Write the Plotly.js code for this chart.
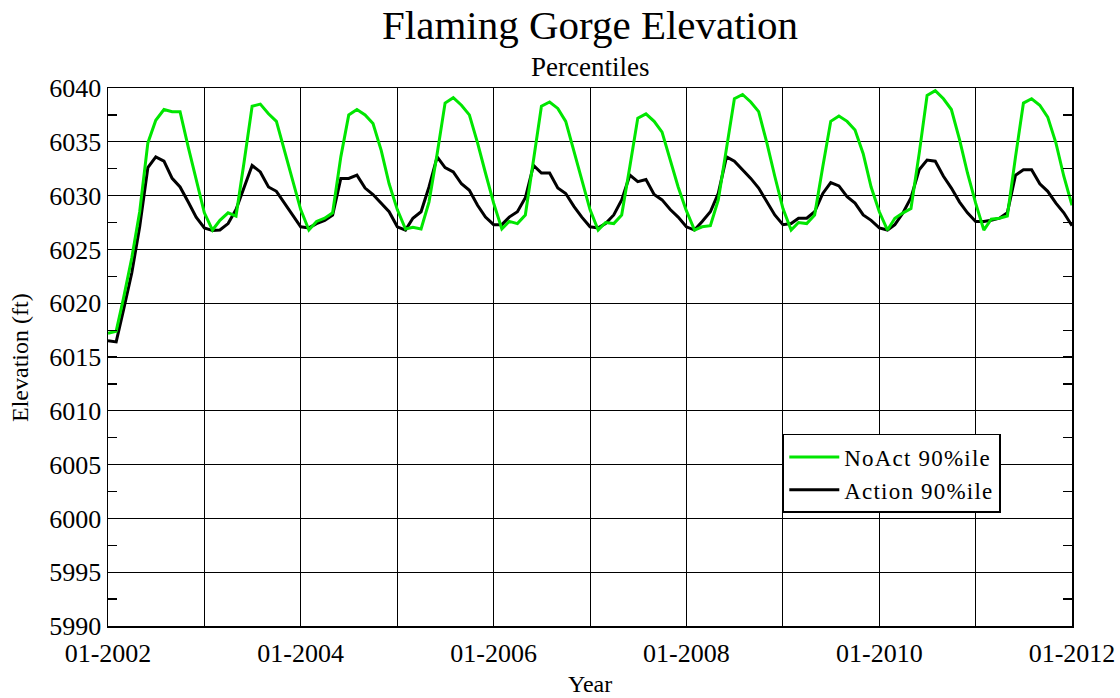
<!DOCTYPE html>
<html>
<head>
<meta charset="utf-8">
<script src="https://cdn.plot.ly/plotly-3.0.1.min.js"></script>
<style>
html,body{margin:0;padding:0;background:#fff;}
#chart{width:1120px;height:698px;}
.legendtext{letter-spacing:1.2px;}
</style>
</head>
<body>
<div id="chart"></div>
<script>
// Monthly series, Jan 2002 .. Jan 2012 (121 months)
const startYear = 2002;
const monthCount = 121;

const noActValues = [
  6017.2, 6017.4, 6020.5, 6024.2, 6028.5, 6034.9, 6037.0, 6038.0, 6037.8, 6037.8, 6034.5, 6031.5,
  6028.4, 6026.8, 6027.7, 6028.4, 6028.1, 6033.2, 6038.3, 6038.5, 6037.6, 6036.9, 6034.2, 6031.5,
  6028.7, 6026.8, 6027.6, 6027.9, 6028.4, 6033.6, 6037.5, 6038.0, 6037.5, 6036.7, 6034.2, 6031.1,
  6028.7, 6026.9, 6027.05, 6026.9, 6029.4, 6033.9, 6038.6, 6039.1, 6038.4, 6037.5, 6034.9, 6032.1,
  6029.3, 6026.9, 6027.6, 6027.4, 6028.2, 6033.3, 6038.3, 6038.7, 6038.1, 6036.9, 6034.2, 6031.5,
  6028.7, 6026.8, 6027.5, 6027.4, 6028.2, 6032.7, 6037.2, 6037.6, 6036.9, 6035.9, 6033.3, 6030.8,
  6028.6, 6026.8, 6027.1, 6027.2, 6029.6, 6034.6, 6039.0, 6039.4, 6038.7, 6037.8, 6034.9, 6031.8,
  6028.8, 6026.8, 6027.5, 6027.4, 6028.2, 6032.7, 6036.9, 6037.4, 6036.9, 6036.1, 6033.9, 6030.8,
  6028.5, 6026.8, 6027.9, 6028.4, 6028.8, 6033.9, 6039.3, 6039.75, 6039.0, 6038.0, 6035.2, 6032.1,
  6029.3, 6026.8, 6027.8, 6027.9, 6028.1, 6033.6, 6038.6, 6039.0, 6038.4, 6037.3, 6034.9, 6031.8,
  6029.1
];

const actionValues = [
  6016.5, 6016.4, 6019.4, 6022.8, 6027.1, 6032.6, 6033.6, 6033.2, 6031.6, 6030.8, 6029.4, 6028.0,
  6027.0, 6026.75, 6026.8, 6027.4, 6028.7, 6030.8, 6032.8, 6032.2, 6030.8, 6030.4, 6029.3, 6028.2,
  6027.1, 6027.0, 6027.4, 6027.7, 6028.2, 6031.6, 6031.6, 6031.9, 6030.7, 6030.1, 6029.3, 6028.5,
  6027.1, 6026.8, 6027.9, 6028.5, 6030.8, 6033.6, 6032.6, 6032.2, 6031.1, 6030.5, 6029.1, 6028.0,
  6027.3, 6027.3, 6028.0, 6028.5, 6029.8, 6032.8, 6032.1, 6032.1, 6030.7, 6030.2, 6029.0, 6028.0,
  6027.1, 6027.0, 6027.4, 6028.2, 6029.6, 6031.9, 6031.3, 6031.5, 6030.1, 6029.6, 6028.7, 6028.0,
  6027.1, 6026.8, 6027.6, 6028.5, 6030.2, 6033.6, 6033.2, 6032.4, 6031.6, 6030.7, 6029.4, 6028.2,
  6027.3, 6027.4, 6027.9, 6027.9, 6028.5, 6030.2, 6031.2, 6030.9, 6029.9, 6029.3, 6028.2, 6027.7,
  6027.0, 6026.8, 6027.3, 6028.4, 6029.8, 6032.4, 6033.3, 6033.2, 6031.8, 6030.7, 6029.4, 6028.4,
  6027.6, 6027.6, 6027.7, 6027.9, 6028.4, 6031.9, 6032.4, 6032.4, 6031.1, 6030.4, 6029.3, 6028.4,
  6027.2
];

const seriesNames = ["NoAct 90%ile", "Action 90%ile"];
const yTickValues = [5990, 5995, 6000, 6005, 6010, 6015, 6020, 6025, 6030, 6035, 6040];
const xTickValues = ["2002-01-01", "2003-01-01", "2004-01-01", "2005-01-01", "2006-01-01", "2007-01-01",
                     "2008-01-01", "2009-01-01", "2010-01-01", "2011-01-01", "2012-01-01"];
const xTickLabels = ["01-2002", "", "01-2004", "", "01-2006", "", "01-2008", "", "01-2010", "", "01-2012"];

const dates = [];
for (let i = 0; i < monthCount; i++) {
  const y = startYear + Math.floor(i / 12);
  const m = (i % 12) + 1;
  dates.push(y + "-" + String(m).padStart(2, "0") + "-01");
}

const serif = "Liberation Serif, Times New Roman, serif";

const traces = [
  {
    x: dates, y: actionValues, type: "scatter", mode: "lines",
    name: seriesNames[1], line: {color: "#000000", width: 3}
  },
  {
    x: dates, y: noActValues, type: "scatter", mode: "lines",
    name: seriesNames[0], line: {color: "#00e600", width: 3}
  }
];

const layout = {
  width: 1120, height: 698,
  margin: {l: 108, r: 48, t: 88, b: 72},
  paper_bgcolor: "#ffffff", plot_bgcolor: "#ffffff",
  font: {family: serif, color: "#000000"},
  title: {
    text: "Flaming Gorge Elevation",
    font: {family: serif, size: 41, color: "#000"},
    x: 0.5, xref: "paper", y: 0.965, yref: "container", yanchor: "middle"
  },
  showlegend: true,
  legend: {
    x: 0.70, y: 0.357, xanchor: "left", yanchor: "top",
    bgcolor: "#ffffff", bordercolor: "#000000", borderwidth: 1.5,
    font: {family: serif, size: 23, color: "#000"},
    traceorder: "reversed", tracegroupgap: 0, itemwidth: 50
  },
  xaxis: {
    type: "date",
    range: ["2002-01-01", "2012-01-01"],
    tickmode: "array", tickvals: xTickValues, ticktext: xTickLabels,
    showgrid: true, gridcolor: "#000000", gridwidth: 1,
    showline: true, linecolor: "#000000", linewidth: 1.5, mirror: true,
    ticks: "", zeroline: false, ticklabelstandoff: 3,
    tickfont: {family: serif, size: 26, color: "#000"}
  },
  yaxis: {
    range: [5990, 6040],
    tickmode: "array", tickvals: yTickValues,
    showgrid: true, gridcolor: "#000000", gridwidth: 1,
    ticks: "inside", ticklen: 9, tickcolor: "#000", tickwidth: 1.2,
    minor: {dtick: 2.5, tick0: 5990, ticks: "inside", ticklen: 9, tickcolor: "#000", tickwidth: 1.2, showgrid: false},
    showline: true, linecolor: "#000000", linewidth: 1.5, mirror: "ticks",
    zeroline: false,
    tickfont: {family: serif, size: 26, color: "#000"}
  },
  annotations: [
    {text: "Percentiles", xref: "paper", yref: "paper", x: 0.5, y: 1.039,
     xanchor: "center", yanchor: "middle", showarrow: false,
     font: {family: serif, size: 27, color: "#000"}},
    {text: "Year", xref: "paper", yref: "paper", x: 0.5, y: -0.1078,
     xanchor: "center", yanchor: "middle", showarrow: false,
     font: {family: serif, size: 24, color: "#000"}},
    {text: "Elevation (ft)", xref: "paper", yref: "paper", x: -0.0913, y: 0.5,
     xanchor: "center", yanchor: "middle", showarrow: false, textangle: -90,
     font: {family: serif, size: 24, color: "#000"}}
  ]
};

Plotly.newPlot("chart", traces, layout, {displayModeBar: false, staticPlot: true});
</script>
</body>
</html>
